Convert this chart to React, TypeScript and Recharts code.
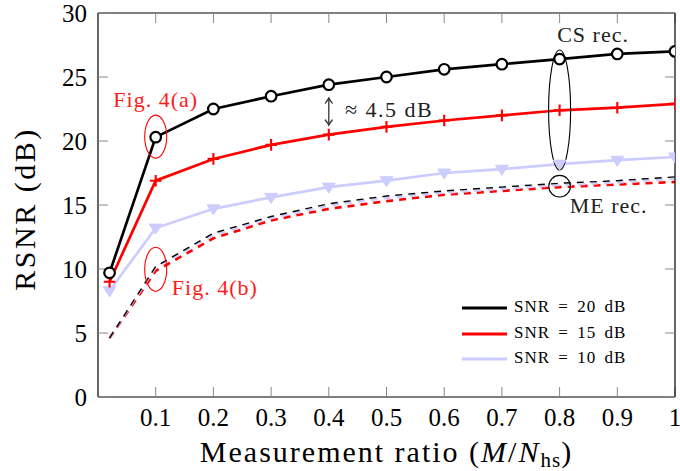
import React from 'react';
import {
  LineChart, Line, XAxis, YAxis, Legend, ReferenceDot, ReferenceLine,
} from 'recharts';

// ---------- data ----------
const ratios = [0.02, 0.1, 0.2, 0.3, 0.4, 0.5, 0.6, 0.7, 0.8, 0.9, 1.0];
const csSnr20 = [9.7, 20.3, 22.5, 23.5, 24.4, 25.0, 25.6, 26.0, 26.4, 26.8, 27.0];
const csSnr15 = [9.0, 16.9, 18.6, 19.7, 20.5, 21.1, 21.6, 22.0, 22.4, 22.6, 22.9];
const csSnr10 = [8.3, 13.2, 14.7, 15.6, 16.4, 16.9, 17.5, 17.8, 18.2, 18.5, 18.75];
const meSnr20 = [4.6, 10.2, 12.8, 14.1, 15.1, 15.7, 16.1, 16.4, 16.7, 16.9, 17.2];
const meSnr10 = [4.6, 10.1, 12.65, 13.95, 14.95, 15.55, 15.95, 16.25, 16.55, 16.75, 17.05];
const meSnr15 = [4.6, 9.85, 12.4, 13.8, 14.7, 15.3, 15.8, 16.1, 16.4, 16.6, 16.8];

const xTicks = [0.1, 0.2, 0.3, 0.4, 0.5, 0.6, 0.7, 0.8, 0.9, 1];
const yTicks = [0, 5, 10, 15, 20, 25, 30];

const seriesNames = ['SNR = 20 dB', 'SNR = 15 dB', 'SNR = 10 dB'];
const seriesColors = ['#000000', '#ff0000', '#ccccff'];

const rows = ratios.map((x, i) => ({
  x,
  cs20: csSnr20[i],
  cs15: csSnr15[i],
  cs10: csSnr10[i],
  me20: meSnr20[i],
  me15: meSnr15[i],
  me10: meSnr10[i],
}));

// ---------- styles ----------
const SERIF = '"Liberation Serif", "Times New Roman", serif';
const W = 680;
const H = 471;
const M = { top: 12, right: 4, left: 0, bottom: 0 };
const Y_W = 98;
const X_H = 74;

const tickStyle = { fontFamily: SERIF, fontSize: 25, fill: '#000' };
const NoLabel = () => <g />;

// ---------- markers ----------
const CircleDot = (p: any) => {
  if (p.cx == null || p.cy == null) return <g key={p.key} />;
  return <circle key={p.key} cx={p.cx} cy={p.cy} r={5.3} fill="#fff" stroke="#000" strokeWidth={2.2} />;
};
const PlusDot = (p: any) => {
  if (p.cx == null || p.cy == null) return <g key={p.key} />;
  const s = 5.8;
  return (
    <path key={p.key} d={`M${p.cx - s},${p.cy} H${p.cx + s} M${p.cx},${p.cy - s} V${p.cy + s}`}
      stroke="#ff0000" strokeWidth={2.1} fill="none" />
  );
};
const TriDot = (p: any) => {
  if (p.cx == null || p.cy == null) return <g key={p.key} />;
  const s = 6.4;
  return (
    <path key={p.key} d={`M${p.cx - s},${p.cy - s * 0.62} L${p.cx + s},${p.cy - s * 0.62} L${p.cx},${p.cy + s * 0.95} Z`}
      fill="#ccccff" stroke="#ccccff" strokeWidth={1} />
  );
};

// ---------- annotation shapes ----------
const ellipseShape = (rx: number, ry: number, color: string) => (p: any) => (
  <ellipse cx={p.cx} cy={p.cy} rx={rx} ry={ry} fill="none" stroke={color} strokeWidth={1.1} />
);
const textShape = (txt: string, color: string, anchor: 'start' | 'middle' | 'end', spacing: number) => (p: any) => (
  <text x={p.cx} y={p.cy} textAnchor={anchor} fill={color}
    style={{ fontFamily: SERIF, fontSize: 22, letterSpacing: spacing }}>{txt}</text>
);
const ArrowShape = (p: any) => {
  const x = p.x1;
  const top = Math.min(p.y1, p.y2);
  const bot = Math.max(p.y1, p.y2);
  return (
    <g stroke="#333" fill="none" strokeWidth={1.3} strokeLinecap="round">
      <line x1={x} y1={top} x2={x} y2={bot} />
      <path d={`M${x - 3.5},${top + 5} Q${x - 1},${top + 2} ${x},${top} Q${x + 1},${top + 2} ${x + 3.5},${top + 5}`} />
      <path d={`M${x - 3.5},${bot - 5} Q${x - 1},${bot - 2} ${x},${bot} Q${x + 1},${bot - 2} ${x + 3.5},${bot - 5}`} />
    </g>
  );
};

// ---------- axis titles ----------
const XTitle = (props: any) => {
  const vb = props.viewBox || {};
  const x0 = vb.x ?? Y_W;
  const w = vb.width ?? (W - Y_W - 5);
  const y0 = vb.y ?? (H - X_H);
  return (
    <text x={x0 + w / 2} y={y0 + 65} textAnchor="middle" fill="#000"
      style={{ fontFamily: SERIF, fontSize: 30, letterSpacing: 2 }}>
      <tspan>Measurement ratio (</tspan>
      <tspan fontStyle="italic">M</tspan>
      <tspan>/</tspan>
      <tspan fontStyle="italic">N</tspan>
      <tspan fontSize={21} dy={5} letterSpacing={1}>hs</tspan>
      <tspan dy={-5}>)</tspan>
    </text>
  );
};
const YTitle = (props: any) => {
  const vb = props.viewBox || {};
  const y0 = vb.y ?? 13;
  const h = vb.height ?? (H - 13 - X_H);
  const cx = 35;
  const cy = y0 + h / 2 + 4;
  return (
    <text x={cx} y={cy} textAnchor="middle" fill="#000" transform={`rotate(-90, ${cx}, ${cy})`}
      style={{ fontFamily: SERIF, fontSize: 30, letterSpacing: 2.5 }}>
      RSNR (dB)
    </text>
  );
};

// ---------- legend ----------
const LegendBox = (props: any) => {
  const payload = (props.payload || []).filter((e: any) => seriesNames.includes(e.value));
  payload.sort((a: any, b: any) => seriesNames.indexOf(a.value) - seriesNames.indexOf(b.value));
  return (
    <div style={{ display: 'flex', flexDirection: 'column' }}>
      {payload.map((e: any) => (
        <div key={e.value} style={{ display: 'flex', alignItems: 'center', height: 25.7 }}>
          <svg width={45} height={6} style={{ display: 'block' }}>
            <line x1={0} y1={3} x2={45} y2={3} stroke={e.color} strokeWidth={3.2} />
          </svg>
          <span style={{
            marginLeft: 7, fontFamily: SERIF, fontSize: 17, letterSpacing: 1, wordSpacing: 3,
            color: '#000', whiteSpace: 'nowrap', lineHeight: '20px', position: 'relative', top: -1,
          }}>{e.value}</span>
        </div>
      ))}
    </div>
  );
};

export default function App() {
  return (
    <div style={{ width: W, height: H, background: '#fff', position: 'relative', overflow: 'hidden' }}>
      <style>{'html,body{margin:0;padding:0;overflow:hidden;background:#fff}'}</style>
      <LineChart width={W} height={H} data={rows} margin={M}>
        <XAxis dataKey="x" type="number" domain={[0, 1]} ticks={xTicks} interval={0}
          allowDataOverflow height={X_H}
          tickFormatter={(v: number) => (v === 1 ? '1' : v.toFixed(1))}
          tick={tickStyle} tickSize={-10} tickMargin={21}
          tickLine={{ stroke: '#888', strokeWidth: 1 }}
          axisLine={{ stroke: '#000', strokeWidth: 1.2 }}
          label={XTitle} />
        <XAxis xAxisId="top" dataKey="x" orientation="top" type="number" domain={[0, 1]} ticks={xTicks}
          interval={0} allowDataOverflow tick={NoLabel} tickSize={-10} height={1}
          tickLine={{ stroke: '#888', strokeWidth: 1 }}
          axisLine={{ stroke: '#000', strokeWidth: 1.2 }} />
        <YAxis type="number" domain={[0, 30]} ticks={yTicks} interval={0} allowDataOverflow width={Y_W}
          tick={tickStyle} tickSize={-10} tickMargin={21}
          tickLine={{ stroke: '#888', strokeWidth: 1 }}
          axisLine={{ stroke: '#000', strokeWidth: 1.2 }}
          label={YTitle} />
        <YAxis yAxisId="right" orientation="right" type="number" domain={[0, 30]} ticks={yTicks}
          interval={0} allowDataOverflow tick={NoLabel} tickSize={-10} width={1}
          tickLine={{ stroke: '#888', strokeWidth: 1 }}
          axisLine={{ stroke: '#000', strokeWidth: 1.2 }} />

        {/* invisible series binding the frame axes */}
        <Line xAxisId="top" yAxisId="right" dataKey="cs20" stroke="none" dot={false} activeDot={false}
          legendType="none" isAnimationActive={false} />

        {/* ME reconstruction (dashed) */}
        <Line dataKey="me15" stroke="#ff0000" strokeWidth={2.6} strokeDasharray="7 6" dot={false}
          legendType="none" activeDot={false} isAnimationActive={false} />
        <Line dataKey="me10" stroke="#ccccff" strokeWidth={2.2} strokeDasharray="7 6" dot={false}
          legendType="none" activeDot={false} isAnimationActive={false} />
        <Line dataKey="me20" stroke="#000000" strokeWidth={1.4} strokeDasharray="7 6" dot={false}
          legendType="none" activeDot={false} isAnimationActive={false} />

        {/* CS reconstruction (solid with markers) */}
        <Line dataKey="cs10" name={seriesNames[2]} stroke={seriesColors[2]} strokeWidth={2.7}
          dot={TriDot} activeDot={false} isAnimationActive={false} />
        <Line dataKey="cs15" name={seriesNames[1]} stroke={seriesColors[1]} strokeWidth={2.7}
          dot={PlusDot} activeDot={false} isAnimationActive={false} />
        <Line dataKey="cs20" name={seriesNames[0]} stroke={seriesColors[0]} strokeWidth={2.7}
          dot={CircleDot} activeDot={false} isAnimationActive={false} />

        {/* annotations */}
        <ReferenceDot x={0.1} y={20.34} shape={ellipseShape(11, 21.5, '#ff0000')} />
        <ReferenceDot x={0.1} y={9.98} shape={ellipseShape(11, 22, '#ff0000')} />
        <ReferenceDot x={0.8} y={22.42} shape={ellipseShape(11, 60, '#000')} />
        <ReferenceDot x={0.8} y={16.47} shape={ellipseShape(10.8, 10.8, '#000')} />
        <ReferenceDot x={0.1} y={22.65} shape={textShape('Fig. 4(a)', '#ff1a1a', 'middle', 1)} />
        <ReferenceDot x={0.128} y={7.95} shape={textShape('Fig. 4(b)', '#ff1a1a', 'start', 1)} />
        <ReferenceDot x={0.428} y={21.9} shape={textShape('≈ 4.5 dB', '#222', 'start', 1.5)} />
        <ReferenceDot x={0.858} y={27.76} shape={textShape('CS rec.', '#222', 'middle', 1)} />
        <ReferenceDot x={0.885} y={14.39} shape={textShape('ME rec.', '#222', 'middle', 1)} />
        <ReferenceLine segment={[{ x: 0.4, y: 23.35 }, { x: 0.4, y: 21.25 }]} shape={ArrowShape} />

        <Legend layout="horizontal" verticalAlign="middle" align="center"
          wrapperStyle={{ left: 462, top: 295, right: 'auto', bottom: 'auto', width: 210 }}
          content={LegendBox} />
      </LineChart>
    </div>
  );
}
